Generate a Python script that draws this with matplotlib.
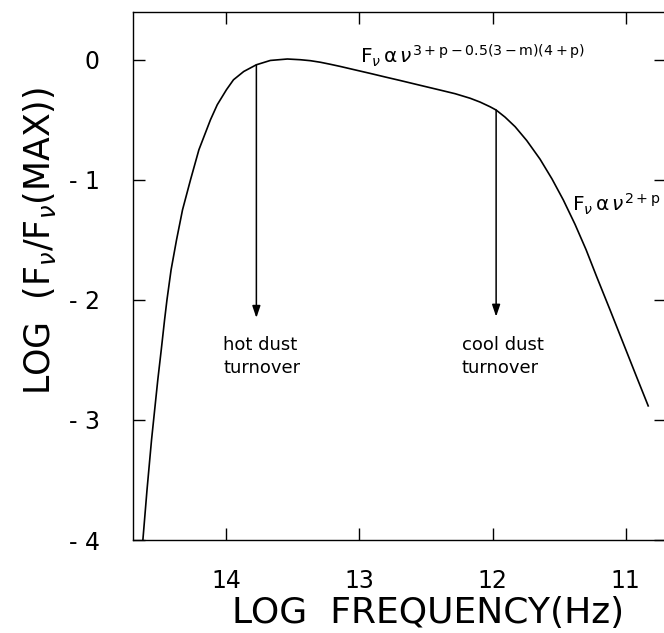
import matplotlib
matplotlib.use("Agg")
import matplotlib.pyplot as plt

# ---- data ----
log_freq = [14.628, 14.597, 14.563, 14.516, 14.490, 14.465, 14.447, 14.416, 14.375,
            14.330, 14.270, 14.207, 14.120, 14.069, 14.0, 13.947, 13.870, 13.775,
            13.670, 13.542, 13.444, 13.369, 13.294, 13.219, 13.144, 13.032, 12.919,
            12.806, 12.694, 12.544, 12.393, 12.281, 12.168, 12.093, 12.018, 11.973,
            11.906, 11.830, 11.743, 11.643, 11.553, 11.468, 11.380, 11.297, 11.217,
            11.117, 11.020, 10.917, 10.857, 10.830]
log_flux = [-4.0, -3.583, -3.167, -2.667, -2.417, -2.167, -2.0, -1.75, -1.5,
            -1.25, -1.0, -0.75, -0.5, -0.375, -0.25, -0.167, -0.098, -0.042,
            -0.006, 0.006, 0.0, -0.008, -0.021, -0.038, -0.056, -0.085, -0.114,
            -0.144, -0.173, -0.213, -0.253, -0.283, -0.321, -0.353, -0.392, -0.419,
            -0.478, -0.558, -0.673, -0.828, -0.993, -1.168, -1.371, -1.582, -1.808,
            -2.083, -2.354, -2.642, -2.808, -2.883]

turnover_x = [13.775, 11.973]
turnover_top = [-0.042, -0.419]
turnover_tip = [-2.15, -2.14]
turnover_text_x = [14.025, 12.231]
turnover_labels = ["hot dust\nturnover", "cool dust\nturnover"]

x_ticks = [14, 13, 12, 11]
x_ticklabels = ["14", "13", "12", "11"]
y_ticks = [0, -1, -2, -3, -4]
y_ticklabels = ["0", "- 1", "- 2", "- 3", "- 4"]

plt.rcParams['font.family'] = ['DejaVu Sans']
plt.rcParams['mathtext.fontset'] = 'dejavusans'

fig = plt.figure(figsize=(6.64, 6.33), dpi=100)
ax = fig.add_axes([133.3 / 664, 1 - 540 / 633, (665.5 - 133.3) / 664, (540 - 11.7) / 633])

ax.plot(log_freq, log_flux, color='black', lw=1.2, solid_joinstyle='round')

for xv, y0, y1, tx, lab in zip(turnover_x, turnover_top, turnover_tip, turnover_text_x, turnover_labels):
    ax.annotate('', xy=(xv, y1), xytext=(xv, y0),
                arrowprops=dict(arrowstyle='-|>,head_length=0.65,head_width=0.22',
                                mutation_scale=11, lw=1.1, color='black',
                                shrinkA=0, shrinkB=0))
    ax.text(tx, -2.3, lab, ha='left', va='top', fontsize=13, linespacing=1.35)

ax.text(12.994, -0.028, r'$\mathrm{F}_{\nu}\,\mathrm{\alpha}\,\nu^{\mathrm{3+p-0.5(3-m)(4+p)}}$',
        ha='left', va='baseline', fontsize=14.5)
ax.text(11.40, -1.26, r'$\mathrm{F}_{\nu}\,\mathrm{\alpha}\,\nu^{\mathrm{2+p}}$',
        ha='left', va='baseline', fontsize=14.5)

ax.set_xlim(14.7, 10.7)
ax.set_ylim(-4.0, 0.4)
ax.set_xticks(x_ticks)
ax.set_xticklabels(x_ticklabels)
ax.set_yticks(y_ticks)
ax.set_yticklabels(y_ticklabels)
ax.tick_params(direction='in', length=8.6, width=1.0, top=True, right=True,
               labelsize=17, pad=21)
ax.tick_params(axis='y', pad=24)
for s in ax.spines.values():
    s.set_linewidth(1.0)

fig.text(428 / 664, 1 - 613 / 633, 'LOG  FREQUENCY(Hz)', ha='center', va='center', fontsize=26)
fig.text(40 / 664, 1 - 241 / 633, r'LOG  (F$_{\nu}$/F$_{\nu}$(MAX))', ha='center', va='center',
         rotation=90, fontsize=25)

fig.savefig('out.png', dpi=100)
